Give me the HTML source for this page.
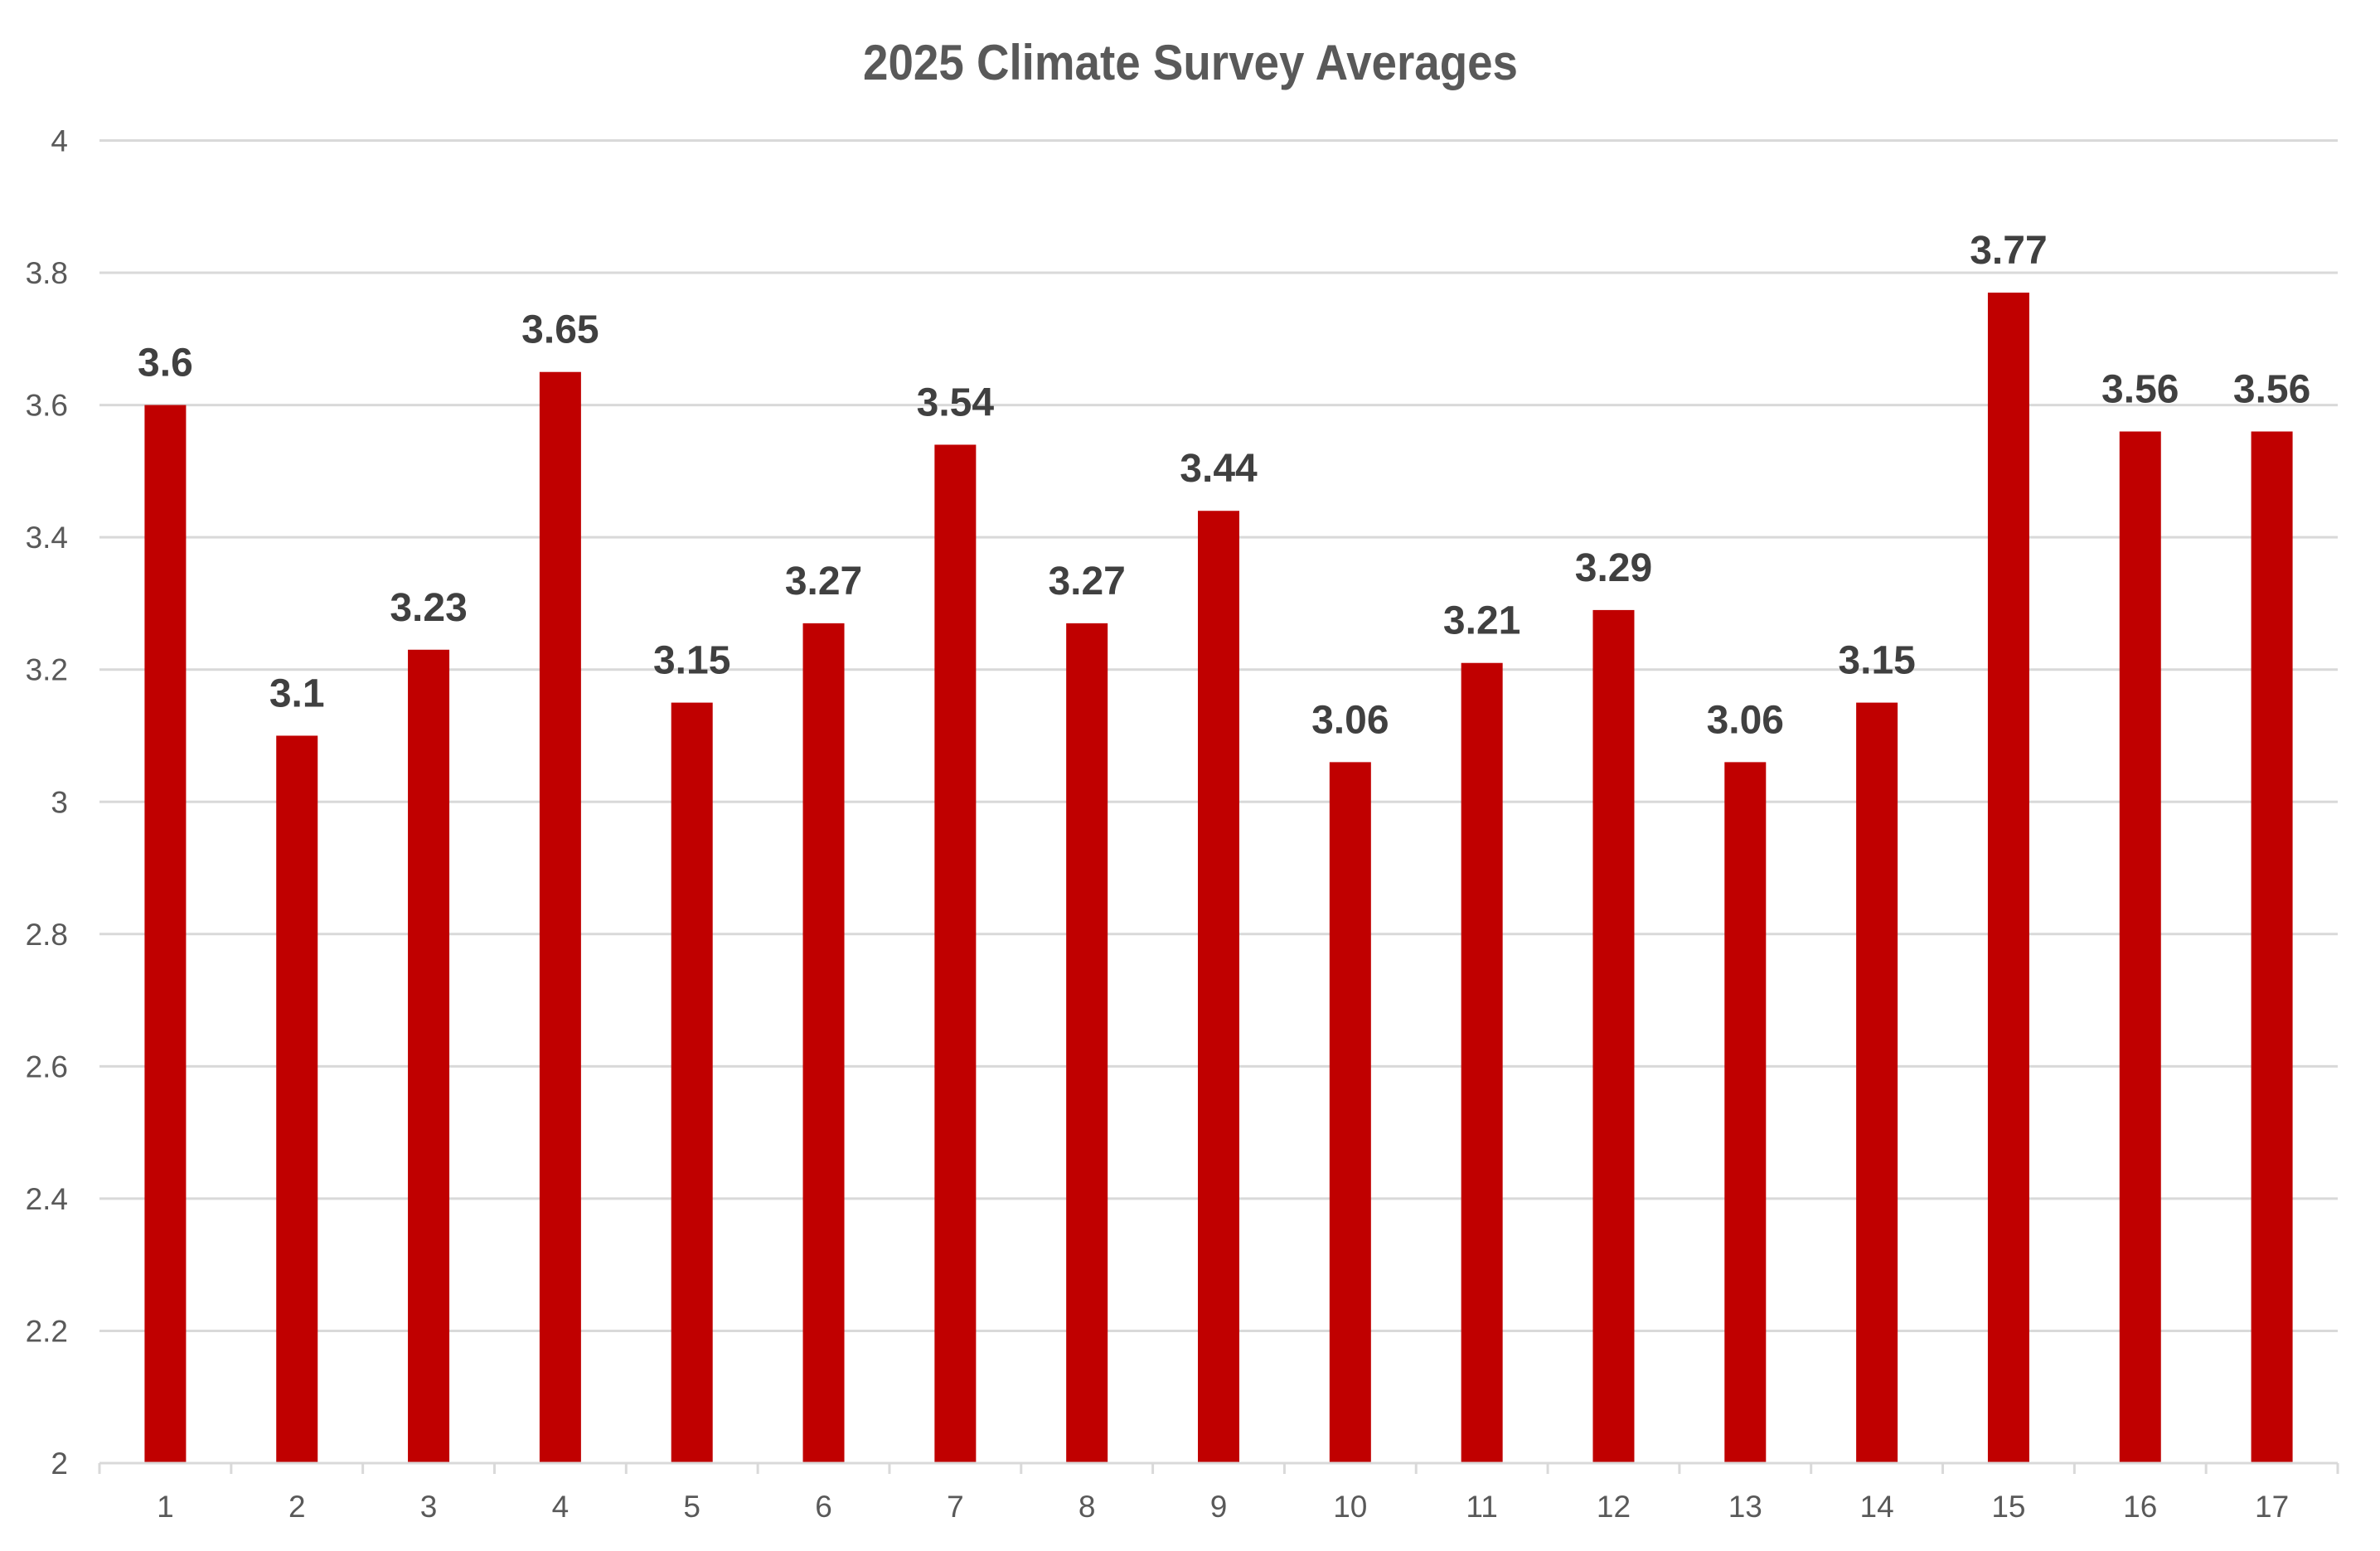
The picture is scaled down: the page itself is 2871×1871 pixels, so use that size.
<!DOCTYPE html>
<html><head><meta charset="utf-8"><style>html,body{margin:0;padding:0;background:#fff}svg{display:block}</style></head><body>
<svg id="c" width="2871" height="1871" xmlns="http://www.w3.org/2000/svg" font-family="Liberation Sans, sans-serif">
<rect width="2871" height="1871" fill="#fff"/>
<text x="1436" y="96" text-anchor="middle" font-size="60" font-weight="bold" fill="#595959" textLength="790" lengthAdjust="spacingAndGlyphs">2025 Climate Survey Averages</text>
<g id="grid"></g>
<g id="bars"></g>
</svg>
<script>
const ns="http://www.w3.org/2000/svg";
const g=document.getElementById('grid'),b=document.getElementById('bars');
function el(p,t,a,txt){const e=document.createElementNS(ns,t);for(const k in a)e.setAttribute(k,a[k]);if(txt!==undefined)e.textContent=txt;p.appendChild(e);return e;}
const L=120,R=2820,Y0=1765,U=797.75;
const y=v=>Y0-(v-2)*U;
for(let i=0;i<=10;i++){const v=2+i*0.2,yy=y(v);
 if(i>0)el(g,'line',{x1:L,x2:R,y1:yy,y2:yy,stroke:'#d9d9d9','stroke-width':3});
 el(g,'text',{x:82,y:yy+13,'text-anchor':'end','font-size':37,fill:'#595959'},(Math.round(v*10)/10).toString());}
el(g,'line',{x1:L,x2:R,y1:Y0,y2:Y0,stroke:'#d9d9d9','stroke-width':3});
const cw=(R-L)/17;
for(let i=0;i<=17;i++){const x=L+i*cw;el(g,'line',{x1:x,x2:x,y1:Y0,y2:Y0+13,stroke:'#d9d9d9','stroke-width':3});}
const d=[3.6,3.1,3.23,3.65,3.15,3.27,3.54,3.27,3.44,3.06,3.21,3.29,3.06,3.15,3.77,3.56,3.56];
d.forEach((v,i)=>{const cx=L+(i+0.5)*cw,top=y(v);
 el(b,'rect',{x:cx-25,y:top,width:50,height:Y0-top-1.5,fill:'#c00000'});
 el(b,'text',{x:cx,y:top-35,'text-anchor':'middle','font-size':48,'font-weight':'bold',fill:'#404040'},String(v));
 el(b,'text',{x:cx,y:1830,'text-anchor':'middle','font-size':37,fill:'#595959'},String(i+1));});
</script>
</body></html>
